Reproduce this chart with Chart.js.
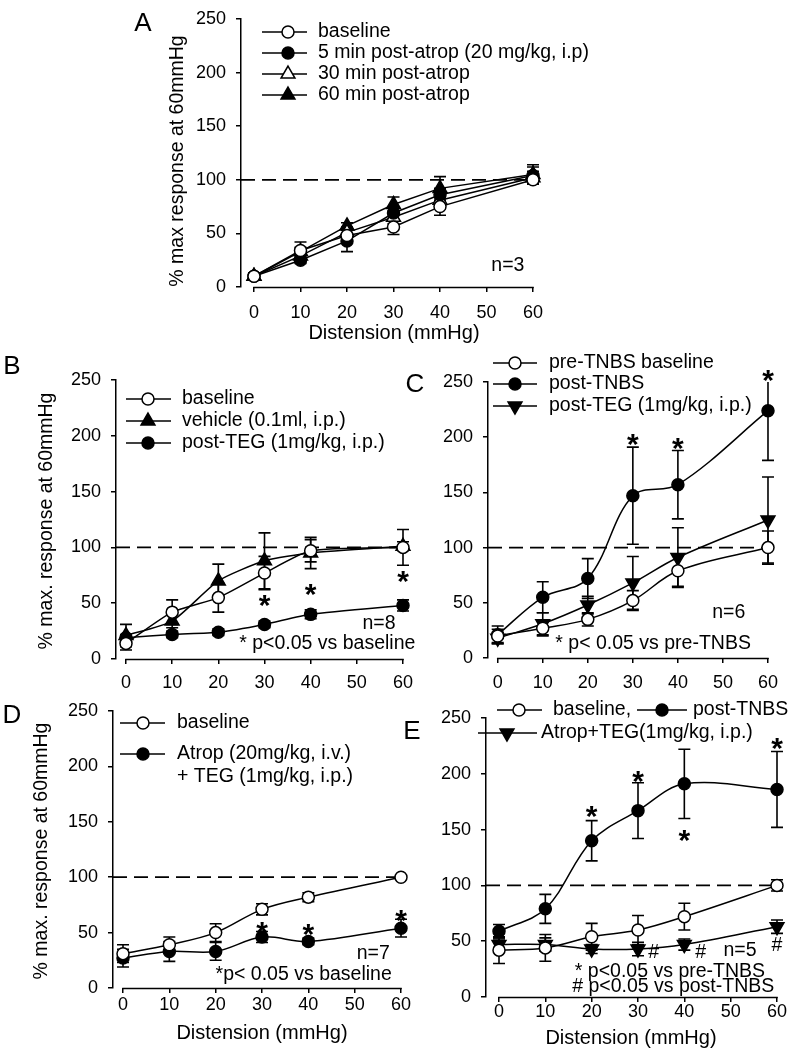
<!DOCTYPE html>
<html><head><meta charset="utf-8">
<script src="https://cdn.jsdelivr.net/npm/chart.js@4.4.1/dist/chart.umd.min.js"></script>
<style>
html,body{margin:0;padding:0;background:#fff;}
#wrap{position:relative;width:789px;height:1050px;overflow:hidden;background:#fff;}
#wrap canvas{position:absolute;left:0;top:0;}
</style></head><body><div id="wrap">
<canvas id="cA" width="789" height="1050"></canvas>
<canvas id="cB" width="789" height="1050"></canvas>
<canvas id="cC" width="789" height="1050"></canvas>
<canvas id="cD" width="789" height="1050"></canvas>
<canvas id="cE" width="789" height="1050"></canvas>
</div>
<script>
// ---------------- DATA ----------------
const distension = [0, 10, 20, 30, 40, 60];
const xTickValues = [0, 10, 20, 30, 40, 50, 60];
const xTickLabels = ['0', '10', '20', '30', '40', '50', '60'];
const yTickValues = [0, 50, 100, 150, 200, 250];
const yTickLabels = ['0', '50', '100', '150', '200', '250'];
const referenceLevel = 100;

// Panel A
const aBaseline = [10, 34, 48, 56, 75, 100];
const aBaselineErr = [3, 8, 6, 7, 8, 4];
const aAtrop5 = [10, 25, 43, 69, 86, 104];
const aAtrop5Err = [3, 3, 10, 6, 6, 8];
const aAtrop30 = [10, 29, 51, 65, 81, 102];
const aAtrop30Err = [3, 4, 5, 6, 8, 6];
const aAtrop60 = [10, 33, 57, 77, 92, 105];
const aAtrop60Err = [3, 4, 3, 7, 11, 9];

// Panel B
const bBaseline = [14, 42, 55, 77, 97, 100];
const bBaselineErr = [6, 11, 13, 15, 10, 16];
const bVehicle = [21, 34, 70, 88, 95, 101];
const bVehicleErr = [10, 6, 15, 25, 14, 4];
const bTEG = [19, 22, 24, 31, 40, 48];
const bTEGErr = [3, 3, 3, 3, 4, 5];
const bStarX = [30, 40, 60];
const bStarY = [55, 65, 76];

// Panel C
const cPreTNBS = [20, 27, 35, 52, 79, 100];
const cPreTNBSErr = [6, 7, 6, 9, 14, 15];
const cPostTNBS = [21, 55, 72, 147, 157, 224];
const cPostTNBSErr = [8, 14, 18, 44, 31, 45];
const cPostTEG = [18, 31, 48, 68, 91, 125];
const cPostTEGErr = [5, 10, 8, 24, 27, 39];
const cStarX = [30, 40, 60];
const cStarY = [200, 197, 258];

// Panel D
const dBaseline = [31, 39, 50, 71, 82, 100];
const dBaselineErr = [8, 7, 8, 5, 4, 1.5];
const dAtropTEG = [27, 33, 33, 46, 42, 54];
const dAtropTEGErr = [8, 9, 8, 5, 3, 8];
const dStarX = [30, 40, 60];
const dStarY = [57, 55, 68];

// Panel E
const eBaseline = [42, 44, 54, 60, 72, 100];
const eBaselineErr = [12, 12, 12, 13, 12, 5];
const ePostTNBS = [59, 79, 140, 167, 191, 186];
const ePostTNBSErr = [6, 13, 18, 25, 31, 34];
const eAtropTEG = [47, 47, 43, 43, 47, 63];
const eAtropTEGErr = [5, 6, 4, 6, 5, 6];
const eStarX = [20, 30, 40, 60];
const eStarY = [169, 200, 147, 230];
const eHashX = [33.4, 43.5, 60];
const eHashY = [40, 40, 46];

// ---------------- STYLE / LAYOUT ----------------
const FONT = "'Liberation Sans', Arial, Helvetica, sans-serif";
const W = 789, H = 1050;
const YAXIS_W = 60, XAXIS_H = 40;
const Y_MAX = 250;

function drawMarker(ctx, shape, filled, x, y) {
  ctx.save();
  ctx.beginPath();
  if (shape === 'circle') {
    ctx.arc(x, y, 6, 0, Math.PI * 2);
  } else {
    let rad = shape === 'triangleDown' ? Math.PI : 0;
    const r = 8;
    ctx.moveTo(x + Math.sin(rad) * r, y - Math.cos(rad) * r);
    rad += 2 * Math.PI / 3;
    ctx.lineTo(x + Math.sin(rad) * r, y - Math.cos(rad) * r);
    rad += 2 * Math.PI / 3;
    ctx.lineTo(x + Math.sin(rad) * r, y - Math.cos(rad) * r);
    ctx.closePath();
  }
  ctx.fillStyle = filled ? '#000' : '#fff';
  ctx.fill();
  ctx.lineWidth = 1.5;
  ctx.strokeStyle = '#000';
  ctx.stroke();
  ctx.restore();
}

function text(ctx, str, x, y, size, align, rotate) {
  ctx.save();
  ctx.font = size + 'px ' + FONT;
  ctx.fillStyle = '#000';
  ctx.textAlign = align || 'left';
  ctx.textBaseline = 'middle';
  ctx.translate(x, y);
  if (rotate) ctx.rotate(rotate);
  ctx.fillText(str, 0, 0);
  ctx.restore();
}

function makePanel(p) {
  const xMin = -(p.x0px - p.area.left) * 60 / (p.area.right - p.x0px);
  const datasets = p.series.map(s => ({
    label: s.label,
    data: distension.map((x, i) => ({ x: x, y: s.values[i] })),
    errors: s.errors,
    borderColor: '#000',
    borderWidth: 1.5,
    backgroundColor: s.filled ? '#000' : '#fff',
    pointBackgroundColor: s.filled ? '#000' : '#fff',
    pointBorderColor: '#000',
    pointBorderWidth: 1.5,
    pointStyle: s.shape === 'circle' ? 'circle' : 'triangle',
    rotation: s.shape === 'triangleDown' ? 180 : 0,
    pointRadius: s.shape === 'circle' ? 6 : 8,
    tension: p.tension,
    clip: false
  }));
  datasets.push({
    label: 'ref',
    data: [{ x: xMin, y: referenceLevel }, { x: 60, y: referenceLevel }],
    borderColor: '#000', borderWidth: 1.8, borderDash: [14, 7],
    pointRadius: 0, clip: false, tension: 0
  });

  const decor = {
    id: 'decor',
    beforeDatasetsDraw(chart) {
      const ctx = chart.ctx, xs = chart.scales.x, ys = chart.scales.y;
      ctx.save();
      ctx.strokeStyle = '#000';
      ctx.lineWidth = 1.5;
      ctx.beginPath();
      const yb = ys.getPixelForValue(0) + 0.5;
      ctx.moveTo(xs.getPixelForValue(0) - 0.75, yb);
      ctx.lineTo(xs.getPixelForValue(60) + 0.75, yb);
      ctx.stroke();
      // error bars (clipped at the axis maximum, no cap when clipped)
      ctx.lineWidth = 1.6;
      chart.data.datasets.forEach(ds => {
        if (!ds.errors) return;
        ds.data.forEach((pt, i) => {
          const e = ds.errors[i];
          const x = xs.getPixelForValue(pt.x);
          const clipped = pt.y + e > Y_MAX;
          const yt = ys.getPixelForValue(Math.min(pt.y + e, Y_MAX));
          const ybm = ys.getPixelForValue(pt.y - e);
          ctx.beginPath();
          ctx.moveTo(x, yt); ctx.lineTo(x, ybm);
          if (!clipped) { ctx.moveTo(x - 6, yt); ctx.lineTo(x + 6, yt); }
          ctx.moveTo(x - 6, ybm); ctx.lineTo(x + 6, ybm);
          ctx.stroke();
        });
      });
      ctx.restore();
    },
    afterDatasetsDraw(chart) {
      const ctx = chart.ctx, xs = chart.scales.x, ys = chart.scales.y;
      p.legend.forEach(it => {
        const s = p.series[it.s];
        ctx.save();
        ctx.strokeStyle = '#000'; ctx.lineWidth = 1.5;
        ctx.beginPath(); ctx.moveTo(it.l, it.y); ctx.lineTo(it.r, it.y); ctx.stroke();
        ctx.restore();
        drawMarker(ctx, s.shape, s.filled, it.mx, it.y);
        s.label.split('\n').forEach((ln, k) => text(ctx, ln, it.tx, it.y + k * 23, 19.5, 'left'));
      });
      (p.notes || []).forEach(n => {
        text(ctx, n.text, xs.getPixelForValue(n.x), ys.getPixelForValue(n.y), 19.5, 'center');
      });
      (p.starX || []).forEach((sx, i) => {
        ctx.save();
        ctx.font = 'bold 30px ' + FONT;
        ctx.fillStyle = '#000';
        ctx.textAlign = 'center';
        ctx.textBaseline = 'alphabetic';
        ctx.fillText('*', xs.getPixelForValue(sx), ys.getPixelForValue(p.starY[i]) + 0.575 * 30);
        ctx.restore();
      });
      (p.hashX || []).forEach((hx, i) => {
        text(ctx, '#', xs.getPixelForValue(hx), ys.getPixelForValue(p.hashY[i]), 19.5, 'center');
      });
      if (p.yTitle) text(ctx, p.yTitle.text, p.yTitle.x, p.yTitle.y, 19.5, 'center', -Math.PI / 2);
      if (p.xTitle) text(ctx, p.xTitle.text, p.xTitle.x, p.xTitle.y, 20, 'center');
      text(ctx, p.letter.text, p.letter.x, p.letter.y, 26, 'center');
    }
  };

  return new Chart(document.getElementById(p.id), {
    type: 'line',
    data: { datasets: datasets },
    plugins: [decor],
    options: {
      responsive: false,
      animation: false,
      events: [],
      layout: {
        autoPadding: true,
        padding: {
          left: p.area.left - YAXIS_W,
          top: p.area.top,
          right: W - p.area.right,
          bottom: H - p.area.bottom - XAXIS_H
        }
      },
      plugins: { legend: { display: false }, tooltip: { enabled: false }, title: { display: false } },
      scales: {
        x: {
          type: 'linear', min: xMin, max: 60,
          afterBuildTicks: s => { s.ticks = xTickValues.map(v => ({ value: v })); },
          afterFit: s => { s.height = XAXIS_H; },
          ticks: {
            callback: v => xTickLabels[xTickValues.indexOf(v)],
            font: { family: FONT, size: 18, lineHeight: 1 },
            color: '#000', padding: p.tickPadX, maxRotation: 0, autoSkip: false
          },
          grid: { display: true, drawOnChartArea: false, drawTicks: true, tickLength: 5, color: '#000', lineWidth: 1.5 },
          border: { display: false }
        },
        y: {
          type: 'linear', min: 0, max: Y_MAX,
          afterBuildTicks: s => { s.ticks = yTickValues.map(v => ({ value: v })); },
          afterFit: s => { s.width = YAXIS_W; },
          ticks: {
            callback: v => yTickLabels[yTickValues.indexOf(v)],
            font: { family: FONT, size: 18, lineHeight: 1 },
            color: '#000', padding: 10, autoSkip: false
          },
          grid: { display: true, drawOnChartArea: false, drawTicks: true, tickLength: 5, color: '#000', lineWidth: 1.5 },
          border: { display: true, color: '#000', width: 1.5 }
        }
      }
    }
  });
}

makePanel({
  id: 'cA', area: { left: 241, top: 9, right: 533, bottom: 287 }, x0px: 254, tension: 0, tickPadX: 12,
  series: [
    { label: 'baseline', values: aBaseline, errors: aBaselineErr, shape: 'circle', filled: false },
    { label: '5 min post-atrop (20 mg/kg, i.p)', values: aAtrop5, errors: aAtrop5Err, shape: 'circle', filled: true },
    { label: '30 min post-atrop', values: aAtrop30, errors: aAtrop30Err, shape: 'triangle', filled: false },
    { label: '60 min post-atrop', values: aAtrop60, errors: aAtrop60Err, shape: 'triangle', filled: true }
  ],
  legend: [
    { s: 0, mx: 288, y: 32, l: 262, r: 307, tx: 318 },
    { s: 1, mx: 288, y: 53, l: 262, r: 307, tx: 318 },
    { s: 2, mx: 288, y: 74, l: 262, r: 307, tx: 318 },
    { s: 3, mx: 288, y: 95, l: 262, r: 307, tx: 318 }
  ],
  notes: [{ text: 'n=3', x: 54.6, y: 20 }],
  yTitle: { text: '% max response at 60mmHg', x: 178, y: 161 },
  xTitle: { text: 'Distension (mmHg)', x: 394, y: 333 },
  letter: { text: 'A', x: 143, y: 24 }
});

makePanel({
  id: 'cB', area: { left: 116, top: 380, right: 403, bottom: 659 }, x0px: 126, tension: 0.2, tickPadX: 10.5,
  series: [
    { label: 'baseline', values: bBaseline, errors: bBaselineErr, shape: 'circle', filled: false },
    { label: 'vehicle (0.1ml, i.p.)', values: bVehicle, errors: bVehicleErr, shape: 'triangle', filled: true },
    { label: 'post-TEG (1mg/kg, i.p.)', values: bTEG, errors: bTEGErr, shape: 'circle', filled: true }
  ],
  legend: [
    { s: 0, mx: 148, y: 399, l: 126, r: 171, tx: 182 },
    { s: 1, mx: 148, y: 421, l: 126, r: 171, tx: 182 },
    { s: 2, mx: 148, y: 443, l: 126, r: 171, tx: 182 }
  ],
  notes: [{ text: 'n=8', x: 54.8, y: 32 }, { text: '* p<0.05 vs baseline', x: 43.6, y: 14.2 }],
  starX: bStarX, starY: bStarY,
  yTitle: { text: '% max. response at 60mmHg', x: 47, y: 521 },
  letter: { text: 'B', x: 12, y: 367 }
});

makePanel({
  id: 'cC', area: { left: 488, top: 382, right: 777, bottom: 658 }, x0px: 498, tension: 0.35, tickPadX: 11,
  series: [
    { label: 'pre-TNBS baseline', values: cPreTNBS, errors: cPreTNBSErr, shape: 'circle', filled: false },
    { label: 'post-TNBS', values: cPostTNBS, errors: cPostTNBSErr, shape: 'circle', filled: true },
    { label: 'post-TEG (1mg/kg, i.p.)', values: cPostTEG, errors: cPostTEGErr, shape: 'triangleDown', filled: true }
  ],
  legend: [
    { s: 0, mx: 515, y: 363, l: 493, r: 537, tx: 549 },
    { s: 1, mx: 515, y: 384, l: 493, r: 537, tx: 549 },
    { s: 2, mx: 515, y: 406, l: 493, r: 537, tx: 549 }
  ],
  notes: [{ text: 'n=6', x: 51.3, y: 41 }, { text: '* p< 0.05 vs pre-TNBS', x: 34.5, y: 13 }],
  starX: cStarX, starY: cStarY,
  letter: { text: 'C', x: 415, y: 385 }
});

makePanel({
  id: 'cD', area: { left: 113, top: 711, right: 401, bottom: 988 }, x0px: 123, tension: 0.35, tickPadX: 3,
  series: [
    { label: 'baseline', values: dBaseline, errors: dBaselineErr, shape: 'circle', filled: false },
    { label: 'Atrop (20mg/kg, i.v.)\n+ TEG (1mg/kg, i.p.)', values: dAtropTEG, errors: dAtropTEGErr, shape: 'circle', filled: true }
  ],
  legend: [
    { s: 0, mx: 143, y: 723, l: 120, r: 165, tx: 177 },
    { s: 1, mx: 143, y: 754, l: 120, r: 165, tx: 177 }
  ],
  notes: [{ text: 'n=7', x: 54, y: 30.7 }, { text: '*p< 0.05 vs baseline', x: 39, y: 11.7 }],
  starX: dStarX, starY: dStarY,
  yTitle: { text: '% max. response at 60mmHg', x: 42, y: 851 },
  xTitle: { text: 'Distension (mmHg)', x: 262, y: 1033 },
  letter: { text: 'D', x: 12, y: 716 }
});

makePanel({
  id: 'cE', area: { left: 486, top: 718, right: 777, bottom: 997 }, x0px: 499, tension: 0.35, tickPadX: 0.7,
  series: [
    { label: 'baseline,', values: eBaseline, errors: eBaselineErr, shape: 'circle', filled: false },
    { label: 'post-TNBS', values: ePostTNBS, errors: ePostTNBSErr, shape: 'circle', filled: true },
    { label: 'Atrop+TEG(1mg/kg, i.p.)', values: eAtropTEG, errors: eAtropTEGErr, shape: 'triangleDown', filled: true }
  ],
  legend: [
    { s: 0, mx: 519, y: 710, l: 497, r: 542, tx: 553 },
    { s: 1, mx: 662, y: 710, l: 637, r: 687, tx: 693 },
    { s: 2, mx: 507, y: 733, l: 478, r: 537, tx: 541 }
  ],
  notes: [
    { text: 'n=5', x: 52, y: 42 },
    { text: '* p<0.05 vs pre-TNBS', x: 36.9, y: 22.7 },
    { text: '# p<0.05 vs post-TNBS', x: 37.6, y: 9.2 }
  ],
  starX: eStarX, starY: eStarY,
  hashX: eHashX, hashY: eHashY,
  xTitle: { text: 'Distension (mmHg)', x: 631, y: 1038 },
  letter: { text: 'E', x: 412, y: 732 }
});
</script>
</body></html>
